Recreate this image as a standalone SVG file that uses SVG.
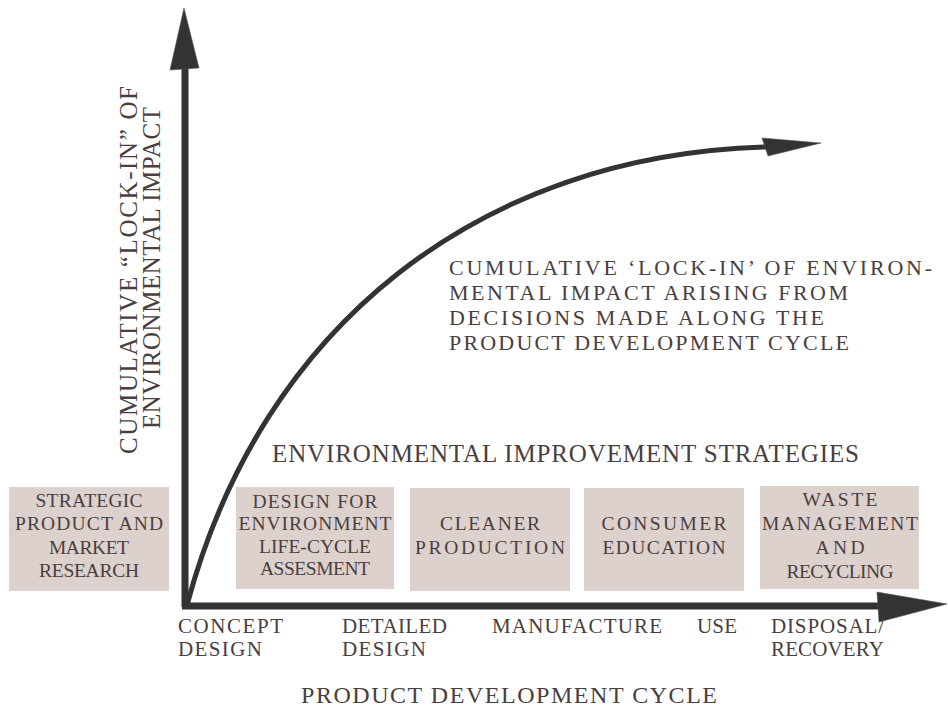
<svg xmlns="http://www.w3.org/2000/svg" width="948" height="709" viewBox="0 0 948 709">
<style>
text{font-family:"Liberation Serif","DejaVu Serif",serif;fill:#4a3e3e}
.box{fill:#dcd1cd}
.bt{font-size:19.5px;text-anchor:middle}
.ax{font-size:21px}
.big{font-size:22px}
.line{stroke:#333;fill:none}
.head{fill:#333;stroke:#555;stroke-width:0.6}
</style>
<rect width="948" height="709" fill="#fff"/>
<g id="connectors">
<line class="line" x1="185" y1="607" x2="185" y2="66" stroke-width="7"/>
<polygon class="head" points="184,8 199,68 170,70"/>
<line class="line" x1="182" y1="606" x2="880" y2="606" stroke-width="7"/>
<polygon class="head" points="877,592 947,604 879,622"/>
<path class="line" d="M187,605 C262,325 480,155 766,147" stroke-width="5"/>
<polygon class="head" points="762,138 821,143 768,156"/>
</g>
<g id="y-label">
<text font-size="25" transform="translate(137,270) rotate(-90)" text-anchor="middle" textLength="368" lengthAdjust="spacing">CUMULATIVE “LOCK-IN” OF</text>
<text font-size="25" transform="translate(160,268) rotate(-90)" text-anchor="middle" textLength="322" lengthAdjust="spacing">ENVIRONMENTAL IMPACT</text>
</g>
<g id="curve-label" class="big">
<text x="449" y="275" textLength="483" lengthAdjust="spacing">CUMULATIVE ‘LOCK-IN’ OF ENVIRON-</text>
<text x="449" y="300" textLength="399" lengthAdjust="spacing">MENTAL IMPACT ARISING FROM</text>
<text x="449" y="325" textLength="375" lengthAdjust="spacing">DECISIONS MADE ALONG THE</text>
<text x="449" y="350" textLength="400" lengthAdjust="spacing">PRODUCT DEVELOPMENT CYCLE</text>
</g>
<g id="strategies-title">
<text x="272" y="462" font-size="25" textLength="587" lengthAdjust="spacing">ENVIRONMENTAL IMPROVEMENT STRATEGIES</text>
</g>
<g id="node-strategic">
<rect class="box" x="9" y="487" width="160" height="104"/>
<text class="bt" x="89" y="507" textLength="107" lengthAdjust="spacing">STRATEGIC</text>
<text class="bt" x="89" y="530" textLength="148" lengthAdjust="spacing">PRODUCT AND</text>
<text class="bt" x="89" y="554" textLength="80" lengthAdjust="spacing">MARKET</text>
<text class="bt" x="89" y="577" textLength="100" lengthAdjust="spacing">RESEARCH</text>
</g>
<g id="node-dfe">
<rect class="box" x="236" y="487" width="158" height="102"/>
<text class="bt" x="315" y="508" textLength="125" lengthAdjust="spacing">DESIGN FOR</text>
<text class="bt" x="315" y="530" textLength="153" lengthAdjust="spacing">ENVIRONMENT</text>
<text class="bt" x="315" y="553" textLength="112" lengthAdjust="spacing">LIFE-CYCLE</text>
<text class="bt" x="315" y="575" textLength="110" lengthAdjust="spacing">ASSESMENT</text>
</g>
<g id="node-cleaner">
<rect class="box" x="410" y="488" width="160" height="103"/>
<text class="bt" x="490" y="530" textLength="100" lengthAdjust="spacing">CLEANER</text>
<text class="bt" x="490" y="554" textLength="150" lengthAdjust="spacing">PRODUCTION</text>
</g>
<g id="node-consumer">
<rect class="box" x="584" y="488" width="160" height="103"/>
<text class="bt" x="664" y="530" textLength="125" lengthAdjust="spacing">CONSUMER</text>
<text class="bt" x="664" y="554" textLength="123" lengthAdjust="spacing">EDUCATION</text>
</g>
<g id="node-waste">
<rect class="box" x="760" y="486" width="159" height="103"/>
<text class="bt" x="840" y="506" textLength="75" lengthAdjust="spacing">WASTE</text>
<text class="bt" x="840" y="530" textLength="156" lengthAdjust="spacing">MANAGEMENT</text>
<text class="bt" x="840" y="554" textLength="49" lengthAdjust="spacing">AND</text>
<text class="bt" x="840" y="578" textLength="107" lengthAdjust="spacing">RECYCLING</text>
</g>
<g id="x-labels" class="ax">
<text x="178" y="633" textLength="105" lengthAdjust="spacing">CONCEPT</text>
<text x="178" y="656" textLength="84" lengthAdjust="spacing">DESIGN</text>
<text x="342" y="633" textLength="105" lengthAdjust="spacing">DETAILED</text>
<text x="342" y="656" textLength="84" lengthAdjust="spacing">DESIGN</text>
<text x="492" y="633" textLength="170" lengthAdjust="spacing">MANUFACTURE</text>
<text x="697" y="633" textLength="40" lengthAdjust="spacing">USE</text>
<text x="771" y="633" textLength="113" lengthAdjust="spacing">DISPOSAL/</text>
<text x="771" y="656" textLength="113" lengthAdjust="spacing">RECOVERY</text>
</g>
<g id="x-title">
<text x="301" y="703" font-size="24" textLength="416" lengthAdjust="spacing">PRODUCT DEVELOPMENT CYCLE</text>
</g>
</svg>
